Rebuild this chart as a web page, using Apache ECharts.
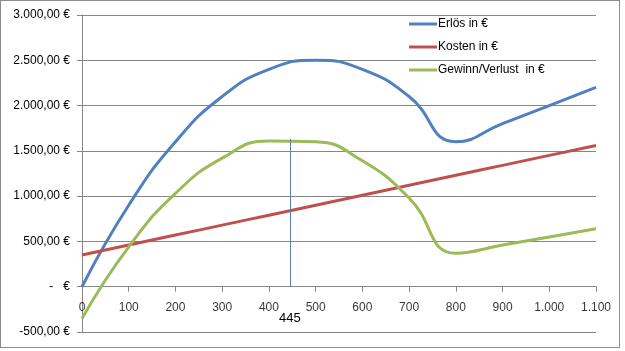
<!DOCTYPE html>
<html>
<head>
<meta charset="utf-8">
<script src="https://cdn.jsdelivr.net/npm/echarts@6/dist/echarts.min.js"></script>
<style>
html,body{margin:0;padding:0;background:#fff;}
#main{position:absolute;left:0;top:0;width:618px;height:346px;border:1px solid #8c8c8c;}
</style>
</head>
<body>
<div id="main"></div>
<script>
// Menge (x-Achse)
var menge = [0, 100, 200, 300, 400, 500, 600, 700, 800, 900, 1000, 1100];
var erloes = [0, 900, 1600, 2100, 2400, 2500, 2400, 2100, 1600, 1800, 2000, 2200];
var kosten = [350, 460, 570, 680, 790, 900, 1010, 1120, 1230, 1340, 1450, 1560];
var gewinn = [-350, 440, 1030, 1420, 1610, 1600, 1390, 980, 370, 460, 550, 640];
// Gewinnmaximum
var maxMenge = 445;
var maxGewinn = 1630;

function pairs(ys) {
	var res = [];
	for (var i = 0; i < menge.length; i++) res.push([menge[i], ys[i]]);
	return res;
}

// 1.000 / 3.000,00 €
function tausend(n) {
	return String(Math.abs(n)).replace(/\B(?=(\d{3})+(?!\d))/g, '.');
}
function euro(v) {
	if (v === 0) return '-   €';
	return (v < 0 ? '-' : '') + tausend(v) + ',00 €';
}

var fontFam = '"Liberation Sans", Arial, sans-serif';
var chart = echarts.init(document.getElementById('main'));
chart.setOption({
	animation: false,
	textStyle: { fontFamily: fontFam },
	grid: { left: 81, right: 23, top: 14, bottom: 15 },
	legend: {
		orient: 'vertical',
		left: 403,
		top: 12,
		itemGap: 11,
		itemWidth: 28,
		itemHeight: 3,
		icon: 'rect',
		textStyle: { fontSize: 12, color: '#000', fontFamily: fontFam, padding: [0, 0, 0, -4] },
		data: ['Erlös in €', 'Kosten in €', 'Gewinn/Verlust  in €']
	},
	xAxis: {
		type: 'value',
		min: 0, max: 1100, interval: 100,
		splitLine: { show: false },
		axisLine: { onZero: true, onZeroAxisIndex: 0, lineStyle: { color: '#868686' } },
		axisTick: { show: true, inside: false, length: 5, lineStyle: { color: '#868686' } },
		axisLabel: { show: false }
	},
	yAxis: {
		type: 'value',
		min: -500, max: 3000, interval: 500,
		splitLine: { show: true, lineStyle: { color: '#868686' } },
		axisLine: { show: true, onZero: false, lineStyle: { color: '#868686' } },
		axisTick: { show: true, length: 5, lineStyle: { color: '#868686' } },
		axisLabel: { fontSize: 12, color: '#000', margin: 12, formatter: euro }
	},
	series: [
		{
			name: 'Erlös in €', type: 'line', smooth: 0.5, showSymbol: false,
			itemStyle: { color: '#4f81bd' }, lineStyle: { width: 3, color: '#4f81bd' },
			data: pairs(erloes)
		},
		{
			name: 'Kosten in €', type: 'line', smooth: 0.5, showSymbol: false,
			itemStyle: { color: '#c0504d' }, lineStyle: { width: 3, color: '#c0504d' },
			data: pairs(kosten)
		},
		{
			name: 'Gewinn/Verlust  in €', type: 'line', smooth: 0.5, showSymbol: false,
			itemStyle: { color: '#9bbb59' }, lineStyle: { width: 3, color: '#9bbb59' },
			data: pairs(gewinn),
			markLine: {
				silent: true,
				symbol: 'none',
				lineStyle: { type: 'solid', width: 1, color: '#5a7fb0' },
				label: {
					show: true, position: 'start', distance: 25,
					fontSize: 13, color: '#000', fontFamily: fontFam,
					formatter: String(maxMenge)
				},
				data: [[{ coord: [maxMenge, 0] }, { coord: [maxMenge, maxGewinn] }]]
			}
		},
		{
			// Beschriftung der x-Achse direkt an der Nulllinie
			name: 'achse', type: 'scatter', silent: true, symbolSize: 0,
			z: 5,
			label: {
				show: true, position: 'bottom', distance: 15,
				fontSize: 12, color: '#000', fontFamily: fontFam,
				formatter: function (p) { return tausend(p.value[0]); }
			},
			data: menge.map(function (m) { return [m, 0]; })
		}
	]
});
</script>
</body>
</html>
